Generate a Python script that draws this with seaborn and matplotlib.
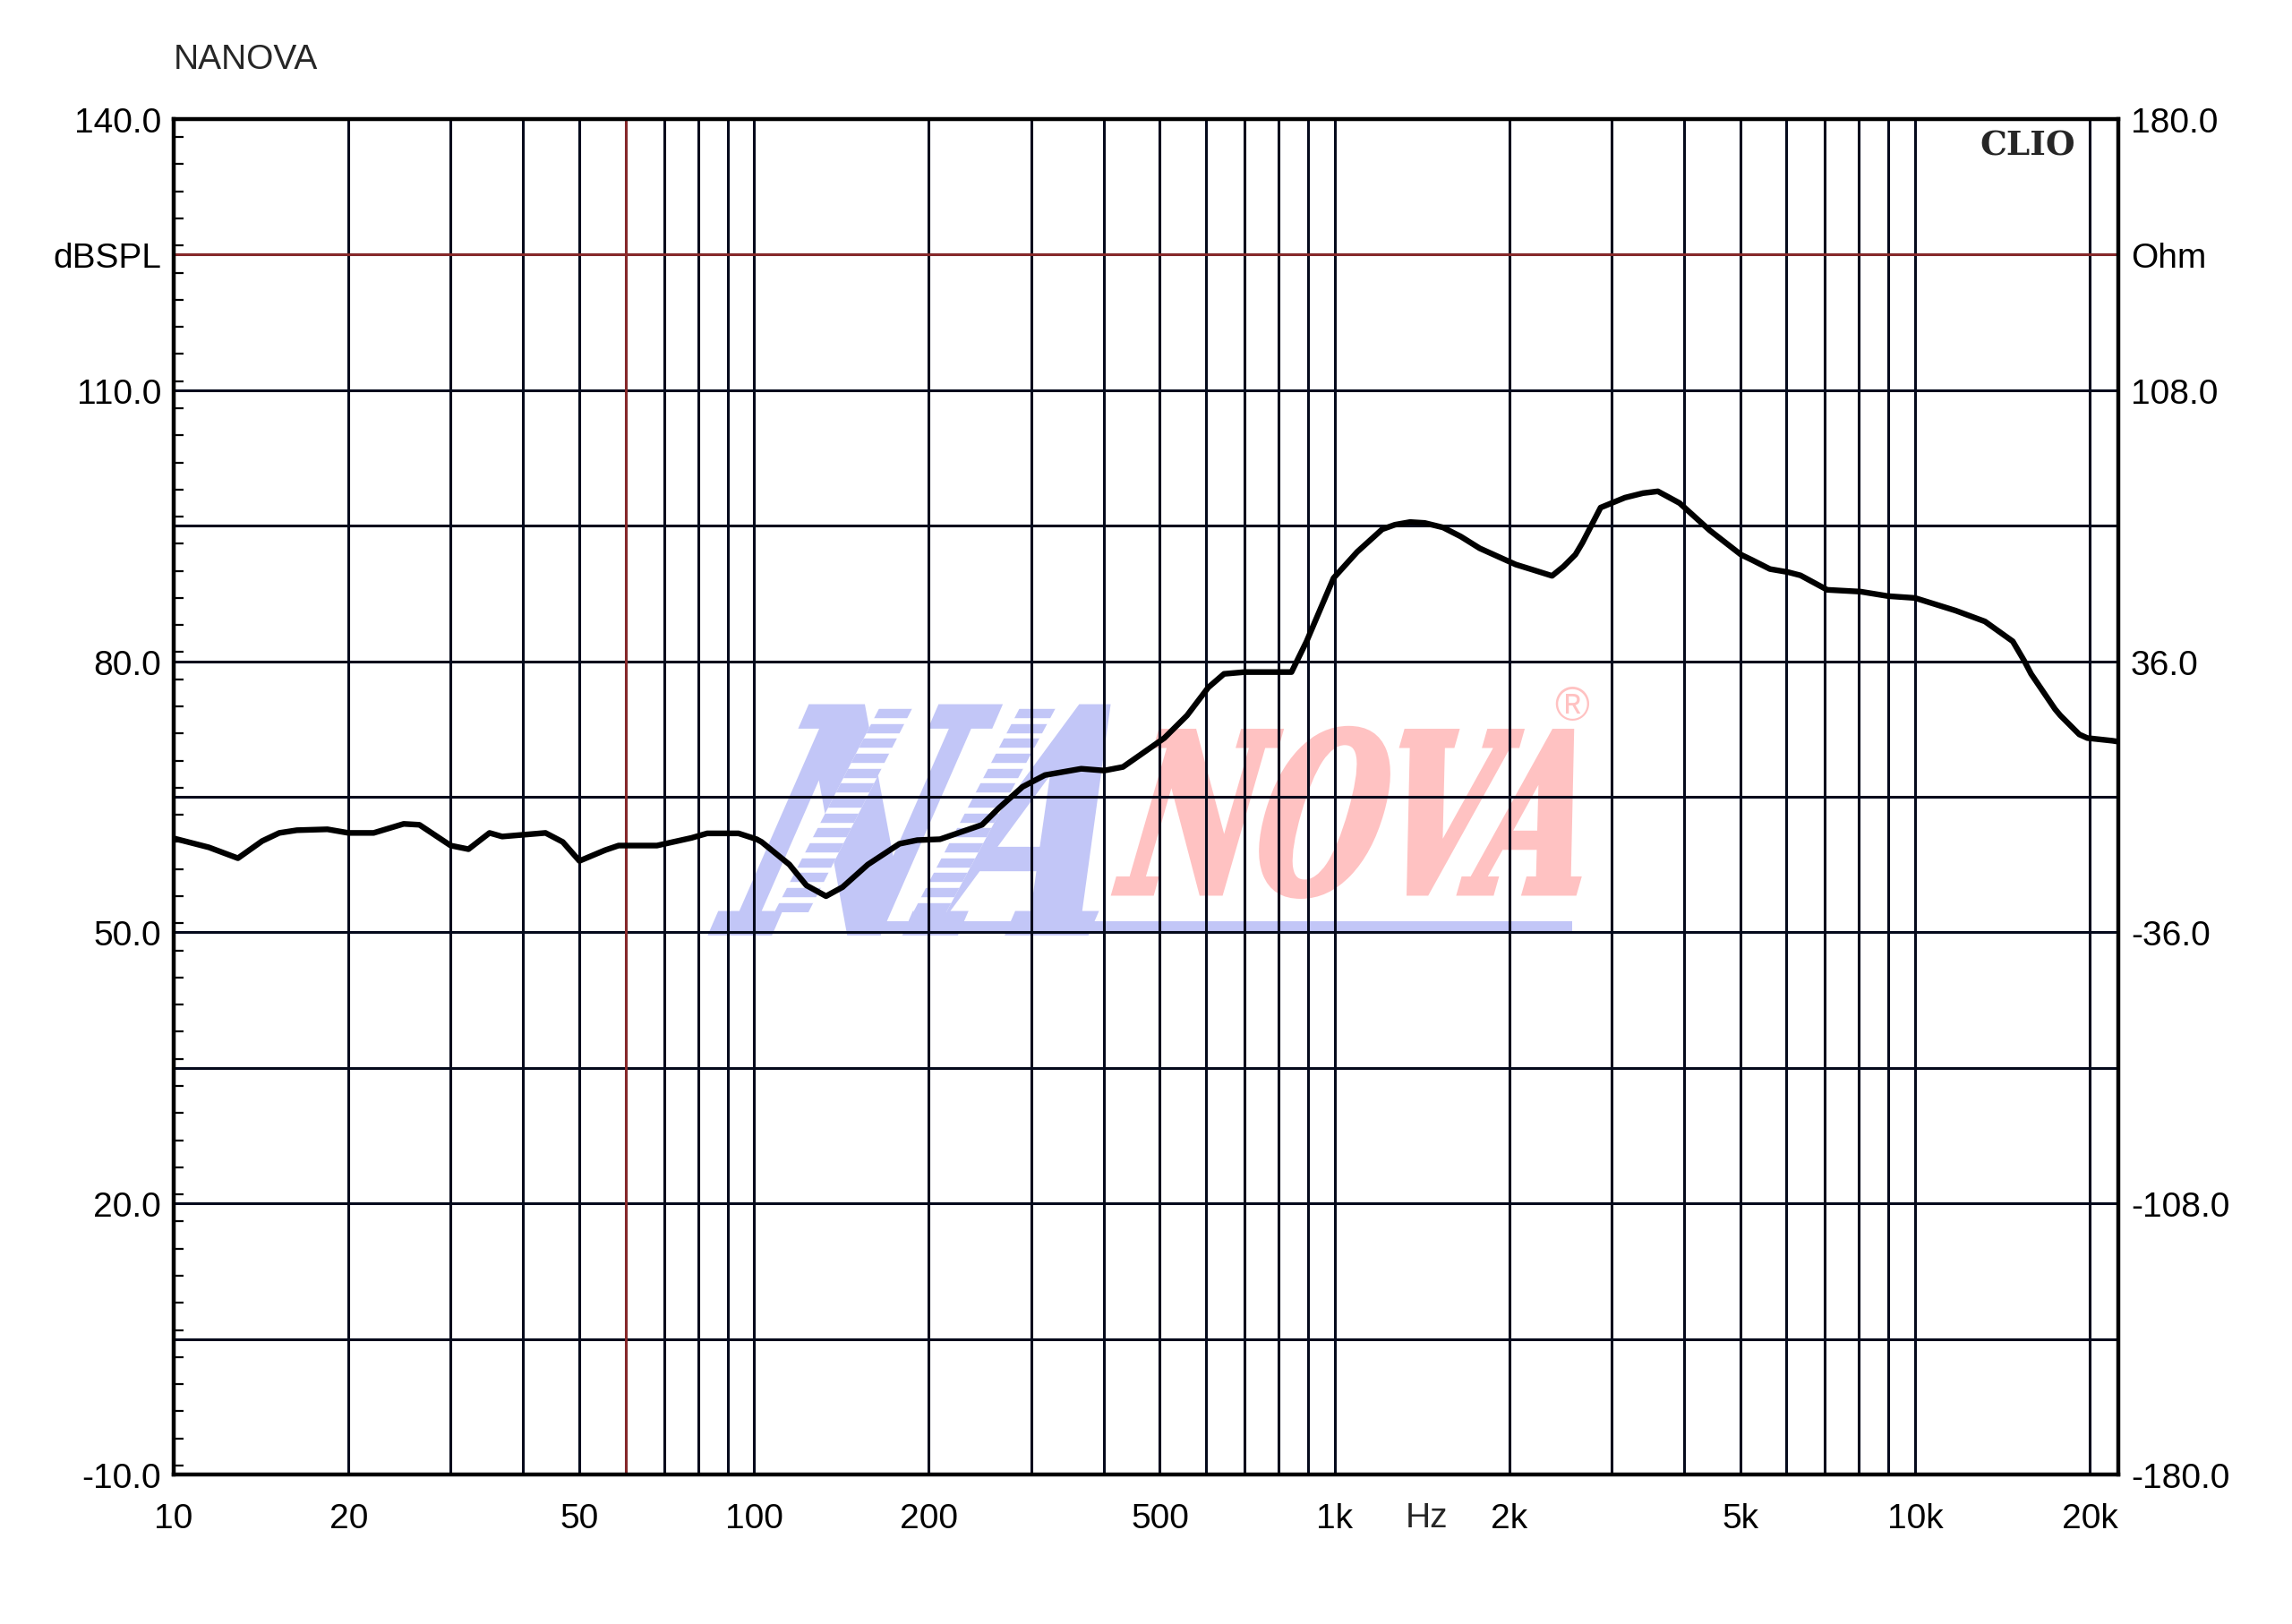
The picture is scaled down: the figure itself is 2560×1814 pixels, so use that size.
from matplotlib import pyplot as plt
import matplotlib.ticker as mticker
import matplotlib.transforms as mtransforms
from matplotlib.textpath import TextPath
from matplotlib.patches import PathPatch, Rectangle, Polygon
from matplotlib.font_manager import FontProperties
import seaborn as sns
import numpy as np

# frequency response
FREQ_HZ = [10, 11.5, 12.9, 14.2, 15.2, 16.3, 18.4, 20, 22.1, 24.9, 26.5, 30, 32.2, 35, 36.8,
           43.7, 46.8, 50, 55.4, 58.4, 68, 78, 83, 94, 101, 103, 115, 123, 133, 142, 157,
           178, 191, 209, 247, 264, 290, 317, 366, 401, 432, 509, 557, 606, 645, 700, 843,
           895, 996, 1094, 1208, 1270, 1349, 1430, 1538, 1650, 1778, 2052, 2200, 2370, 2482,
           2600, 2673, 2873, 3164, 3400, 3606, 3930, 4426, 5012, 5240, 5625, 6050, 6350, 7060,
           8060, 9000, 10000, 11750, 13200, 14740, 15440, 15850, 17430, 17800, 19190, 19810,
           21880, 22400]
SPL_DB = [60.4, 59.4, 58.2, 60.1, 61.0, 61.3, 61.4, 61.0, 61.0, 62.0, 61.9, 59.6, 59.2, 61.0, 60.6,
          61.0, 60.0, 57.9, 59.1, 59.6, 59.6, 60.45, 60.95, 60.95, 60.3, 60.0, 57.5, 55.2, 54.0, 55.0, 57.5,
          59.8, 60.2, 60.3, 61.9, 63.75, 66.1, 67.4, 68.1, 67.9, 68.3, 71.5, 74.0, 77.1, 78.6, 78.8, 78.8,
          82.2, 89.2, 92.1, 94.6, 95.1, 95.4, 95.3, 94.8, 93.8, 92.5, 90.7, 90.1, 89.45, 90.5,
          91.8, 93.1, 97.0, 98.1, 98.6, 98.8, 97.5, 94.5, 91.8, 91.2, 90.2, 89.85, 89.5, 87.9,
          87.7, 87.2, 87.0, 85.6, 84.4, 82.2, 80.0, 78.6, 74.7, 74.0, 71.9, 71.5,
          71.2, 71.1]

LEFT_TICKS = [-10, 5, 20, 35, 50, 65, 80, 95, 110, 125, 140]
LEFT_LABELS = ["-10.0", "", "20.0", "", "50.0", "", "80.0", "", "110.0", "dBSPL", "140.0"]
RIGHT_TICKS = [-180, -144, -108, -72, -36, 0, 36, 72, 108, 144, 180]
RIGHT_LABELS = ["-180.0", "", "-108.0", "", "-36.0", "", "36.0", "", "108.0", "Ohm", "180.0"]
X_LABELS = {10: "10", 20: "20", 50: "50", 100: "100", 200: "200", 500: "500",
            1000: "1k", 2000: "2k", 5000: "5k", 10000: "10k", 20000: "20k"}

GRID = "#050a1c"
RED = "#8e2a2a"
BLUE = "#c2c6f7"
PINK = "#ffc2c2"

sns.set_style("white")
plt.rcParams['font.family'] = ['Liberation Sans', 'DejaVu Sans']

fig = plt.figure(figsize=(25.6, 18.15), dpi=100)
ax = fig.add_axes([0.0758, 0.0920, 0.8484, 0.8342])

ax.set_xscale("log")
ax.set_xlim(10, 22400)
ax.set_ylim(-10, 140)

# watermark logo, behind the grid
def logo(text, box, color, skew):
    fp = FontProperties(family='DejaVu Serif', style='italic', weight='bold')
    path = TextPath((0, 0), text, size=100, prop=fp)
    path = mtransforms.Affine2D().skew_deg(skew, 0).transform_path(path)
    ext = path.get_extents()
    x0, y0, x1, y1 = box
    tr = (mtransforms.Affine2D().translate(-ext.x0, -ext.y0)
          .scale((x1 - x0) / ext.width, (y1 - y0) / ext.height)
          .translate(x0, y0) + ax.transAxes)
    p = PathPatch(path, facecolor=color, edgecolor=color, lw=5, transform=tr, zorder=0.2)
    ax.add_patch(p)
    return p

logo("NA", (0.277, 0.400, 0.480, 0.566), BLUE, 22)
logo("NOVA", (0.484, 0.427, 0.722, 0.550), PINK, 14)

# speed-line bands on the blue letters
bands = [[(0.3089, 0.4148), (0.3264, 0.4148), (0.3803, 0.5667), (0.3633, 0.5667)],
         [(0.3803, 0.4148), (0.3973, 0.4148), (0.4540, 0.5667), (0.4355, 0.5667)]]
for b in bands:
    poly = Polygon(b, closed=True, transform=ax.transAxes, facecolor="white",
                   edgecolor='none', zorder=0.25)
    ax.add_patch(poly)
    for yy in np.arange(0.4148, 0.5667, 0.0110):
        ln, = ax.plot([0.30, 0.46], [yy + 0.0035, yy + 0.0035], transform=ax.transAxes,
                      color=BLUE, lw=7.5, solid_capstyle='butt', zorder=0.3)
        ln.set_clip_path(poly)

ax.add_patch(Rectangle((0.362, 0.401), 0.357, 0.007, transform=ax.transAxes,
                       facecolor=BLUE, edgecolor='none', zorder=0.2))
ax.text(0.719, 0.566, "®", transform=ax.transAxes, fontsize=38, color=PINK,
        ha='center', va='center', zorder=0.3)

# grid
ax.set_axisbelow(True)
ax.xaxis.set_major_locator(mticker.LogLocator(base=10, subs=np.arange(1, 10), numticks=60))
ax.xaxis.set_minor_locator(mticker.NullLocator())
ax.xaxis.set_major_formatter(mticker.FuncFormatter(
    lambda v, pos: X_LABELS.get(int(round(v)), "")))
ax.set_yticks(LEFT_TICKS)
ax.set_yticklabels(LEFT_LABELS)
ax.yaxis.set_minor_locator(mticker.MultipleLocator(3))
ax.grid(True, which='major', color=GRID, lw=2.2)

ax.axhline(125, color=RED, lw=2.0, zorder=0.7)
ax.axvline(60, color=RED, lw=2.0, zorder=0.7)

sns.lineplot(x=FREQ_HZ, y=SPL_DB, ax=ax, color="black", linewidth=4.6,
             estimator=None, sort=False, zorder=3)

for s in ax.spines.values():
    s.set_color("black")
    s.set_linewidth(3.2)
    s.set_visible(True)

ax.tick_params(axis='x', which='major', length=0, pad=22, labelsize=28, colors='black')
ax.tick_params(axis='y', which='major', length=0, pad=10, labelsize=28, colors='black')
ax.tick_params(axis='y', which='minor', left=True, right=True, direction='in',
               length=8, width=1.6, color='black')

ax.text(1440, -0.032, "Hz", transform=ax.get_xaxis_transform(), fontsize=28,
        ha='center', va='center')

ax2 = ax.twinx()
ax2.set_ylim(-180, 180)
ax2.set_yticks(RIGHT_TICKS)
ax2.set_yticklabels(RIGHT_LABELS)
ax2.tick_params(axis='y', length=0, pad=10, labelsize=28, colors='black')
ax2.grid(False)
for s in ax2.spines.values():
    s.set_visible(False)

ax.text(0.978, 0.981, "CLIO", transform=ax.transAxes, fontsize=27, fontweight='bold',
        family='DejaVu Serif', ha='right', va='center', zorder=4)
fig.text(194 / 2560, 1 - 67 / 1815, "NANOVA", fontsize=28, ha='left', va='center')

plt.savefig("out.png", dpi=100)
